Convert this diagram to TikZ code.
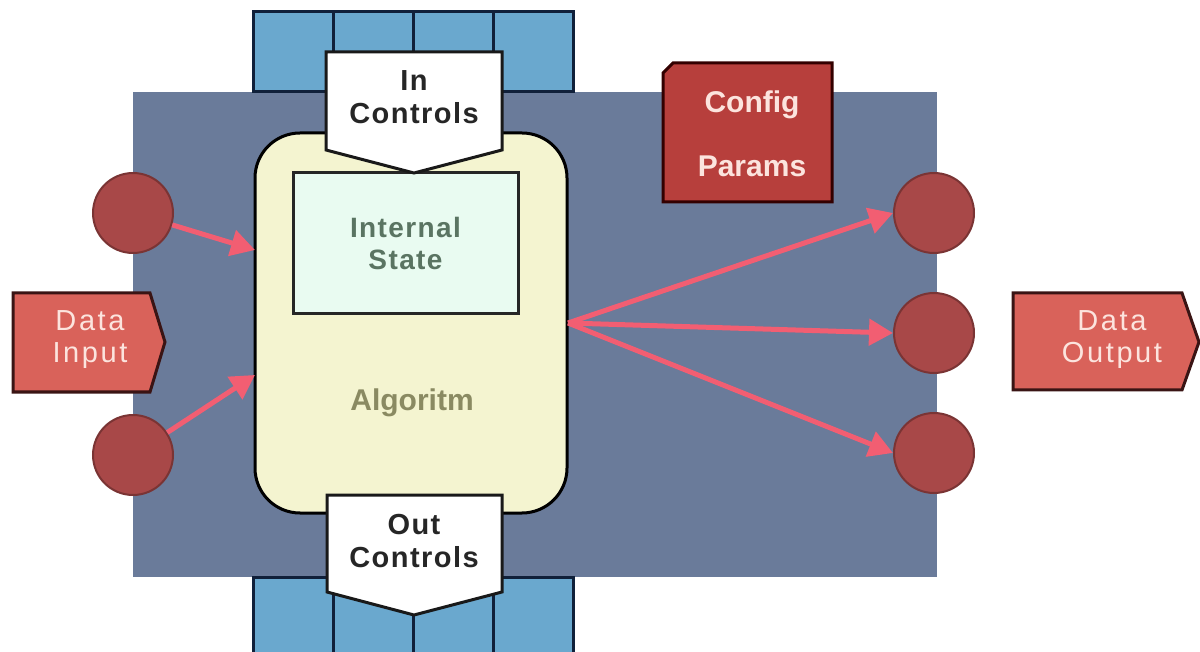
\documentclass[tikz,border=0pt]{standalone}
\usepackage{fontspec}
\setmainfont{Liberation Sans}
\newfontfamily\widesans[LetterSpace=5]{Liberation Sans}
\newfontfamily\widersans[LetterSpace=9]{Liberation Sans}
\usetikzlibrary{arrows.meta}

\definecolor{panel}{HTML}{6A7B9A}
\definecolor{cell}{HTML}{6AA8CE}
\definecolor{cellline}{HTML}{10203A}
\definecolor{algfill}{HTML}{F4F4D0}
\definecolor{statefill}{HTML}{E9FBF1}
\definecolor{statetext}{HTML}{5A7462}
\definecolor{algtext}{HTML}{8A8A62}
\definecolor{portfill}{HTML}{A84848}
\definecolor{portline}{HTML}{7A3434}
\definecolor{datafill}{HTML}{D9625A}
\definecolor{dataline}{HTML}{3A1414}
\definecolor{datatext}{HTML}{FCE4DE}
\definecolor{cfgfill}{HTML}{B73F3C}
\definecolor{flow}{HTML}{F25E72}

\begin{document}
\begin{tikzpicture}[x=1pt,y=-1pt,
  cellbox/.style={draw=cellline,line width=3pt,fill=cell},
  ctrlbox/.style={draw=black!90,line width=3pt,fill=white,line join=miter},
  ctrltext/.style={align=center,font=\widesans\fontsize{29}{33}\selectfont\bfseries,text=black!85,inner sep=0pt},
  datashape/.style={draw=dataline,line width=3pt,fill=datafill},
  datatext/.style={align=center,font=\widersans\fontsize{29}{32}\selectfont,text=datatext,inner sep=0pt},
  port/.style={circle,draw=portline,line width=2pt,fill=portfill,minimum size=80pt,inner sep=0pt},
  flowarrow/.style={draw=flow,line width=5pt,-{Triangle[length=24pt,width=26pt]}},
]
\useasboundingbox (0,0) rectangle (1200,652);
\clip (0,0) rectangle (1200,652);

% component body
\fill[panel] (133,92) rectangle (937,577);

% control buses above and below
\foreach \x in {253,333,413,493} {
  \draw[cellbox] (\x,12) rectangle (\x+80,92);
  \draw[cellbox] (\x,577) rectangle (\x+80,670);
}

% algorithm core
\node[draw=black,line width=3pt,fill=algfill,rounded corners=45pt,
      minimum width=312pt,minimum height=380pt] (alg) at (411,323) {};
\node[text=algtext,font=\fontsize{30}{34}\selectfont\bfseries] (algname) at (412,403) {Algoritm};

% internal state
\node[draw=black!85,line width=3pt,fill=statefill,minimum width=225pt,minimum height=141pt,
      align=center,text=statetext,font=\widesans\fontsize{28}{32}\selectfont\bfseries] (state) at (405.5,243.5)
      {Internal\\State};

% control connectors
\draw[ctrlbox] (326,52) -- (502,52) -- (502,150) -- (414,173) -- (326,150) -- cycle;
\node[ctrltext] (inctl) at (414,97) {In\\Controls};
\draw[ctrlbox] (327,495) -- (502,495) -- (502,592) -- (414,615) -- (327,592) -- cycle;
\node[ctrltext] (outctl) at (414,541) {Out\\Controls};

% configuration parameters
\draw[draw=black!80!red,line width=3pt,fill=cfgfill]
  (673,63) -- (832,63) -- (832,202) -- (663,202) -- (663,73) -- cycle;
\node[align=center,text=datatext,inner sep=0pt,font=\fontsize{30}{64}\selectfont\bfseries] (cfg)
  at (752,134) {Config\\Params};

% ports
\node[port] (in1) at (133,213) {};
\node[port] (in2) at (133,455) {};
\node[port] (out1) at (934,213) {};
\node[port] (out2) at (934,333) {};
\node[port] (out3) at (934,453) {};

% data flow
\coordinate (algin1) at (255,250);
\coordinate (algin2) at (255,375);
\coordinate (algout) at (568,323);
\draw[flowarrow] (in1) -- (algin1);
\draw[flowarrow] (in2) -- (algin2);
\draw[flowarrow] (algout) -- (out1.west);
\draw[flowarrow] (algout) -- (out2.west);
\draw[flowarrow] (algout) -- (out3.west);

% data terminals
\draw[datashape] (13,293) -- (150,293) -- (165,342) -- (150,392) -- (13,392) -- cycle;
\node[datatext] (din) at (90,340) {Data\\Input};
\draw[datashape] (1013,293) -- (1182,293) -- (1199,342) -- (1182,390) -- (1013,390) -- cycle;
\node[datatext] (dout) at (1112,340) {Data\\Output};
\end{tikzpicture}
\end{document}
